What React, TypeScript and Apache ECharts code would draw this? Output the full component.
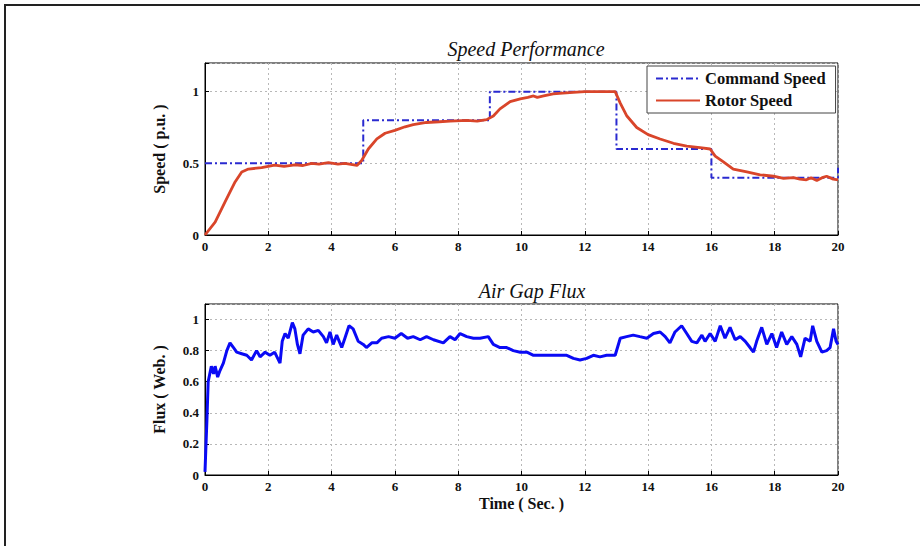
import React, { useEffect, useRef } from "react";
import * as echarts from "echarts";

// Command speed (step reference)
const cmdTime = [0, 5, 5, 9, 9, 13, 13, 16, 16, 20, 20];
const cmdSpeed = [0.5, 0.5, 0.8, 0.8, 1.0, 1.0, 0.6, 0.6, 0.4, 0.4, 0.47];

// Rotor speed
const rotorTime = [0, 0.32, 0.63, 0.95, 1.16, 1.37, 1.79, 2.2, 2.5, 2.84, 3.1, 3.37, 3.6, 3.9, 4.2, 4.42, 4.8, 4.95, 5.16, 5.43, 5.69, 6.0, 6.32, 6.58, 7.0, 7.4, 7.74, 8.27, 8.6, 8.9, 9.11, 9.32, 9.64, 9.96, 10.2, 10.38, 10.5, 10.7, 11.0, 11.3, 11.64, 12.0, 12.48, 12.96, 13.12, 13.33, 13.64, 14.0, 14.38, 14.8, 15.22, 15.64, 15.96, 16.12, 16.38, 16.69, 17.12, 17.54, 17.96, 18.28, 18.59, 18.8, 19.0, 19.15, 19.33, 19.5, 19.64, 19.85, 20.0];
const rotorSpeed = [0, 0.09, 0.23, 0.37, 0.44, 0.46, 0.47, 0.488, 0.478, 0.49, 0.485, 0.5, 0.495, 0.505, 0.495, 0.5, 0.485, 0.52, 0.6, 0.67, 0.71, 0.73, 0.755, 0.77, 0.785, 0.79, 0.795, 0.8, 0.795, 0.805, 0.83, 0.88, 0.93, 0.95, 0.96, 0.97, 0.96, 0.97, 0.985, 0.99, 0.995, 1.0, 1.0, 1.0, 0.92, 0.83, 0.75, 0.7, 0.67, 0.64, 0.62, 0.61, 0.6, 0.55, 0.51, 0.46, 0.44, 0.42, 0.41, 0.395, 0.4, 0.39, 0.385, 0.4, 0.38, 0.4, 0.41, 0.39, 0.385];

// Air gap flux
const fluxTime = [0, 0.03, 0.06, 0.1, 0.2, 0.27, 0.32, 0.4, 0.47, 0.58, 0.69, 0.79, 0.9, 1.0, 1.16, 1.32, 1.47, 1.63, 1.74, 1.9, 2.05, 2.2, 2.37, 2.44, 2.53, 2.63, 2.76, 2.84, 2.92, 3.0, 3.1, 3.26, 3.42, 3.58, 3.74, 3.84, 3.95, 4.05, 4.16, 4.32, 4.42, 4.55, 4.68, 4.84, 5.0, 5.1, 5.27, 5.43, 5.58, 5.8, 6.0, 6.2, 6.4, 6.58, 6.8, 7.0, 7.22, 7.53, 7.74, 7.9, 8.06, 8.27, 8.48, 8.69, 8.95, 9.11, 9.32, 9.53, 9.74, 9.96, 10.17, 10.38, 10.59, 10.8, 11.0, 11.22, 11.43, 11.64, 11.85, 12.06, 12.27, 12.48, 12.69, 12.96, 13.12, 13.32, 13.53, 13.74, 13.96, 14.17, 14.38, 14.54, 14.69, 14.85, 15.06, 15.22, 15.38, 15.54, 15.7, 15.8, 15.96, 16.12, 16.28, 16.43, 16.59, 16.75, 16.91, 17.07, 17.22, 17.33, 17.43, 17.59, 17.75, 17.91, 18.06, 18.22, 18.38, 18.54, 18.7, 18.82, 18.96, 19.12, 19.2, 19.33, 19.49, 19.64, 19.75, 19.86, 19.94, 20.0];
const fluxValue = [0.02, 0.19, 0.35, 0.6, 0.7, 0.65, 0.7, 0.63, 0.67, 0.72, 0.8, 0.85, 0.82, 0.79, 0.78, 0.77, 0.74, 0.8, 0.76, 0.79, 0.77, 0.79, 0.72, 0.86, 0.91, 0.88, 0.98, 0.94, 0.84, 0.78, 0.9, 0.94, 0.92, 0.93, 0.89, 0.85, 0.92, 0.84, 0.9, 0.82, 0.88, 0.96, 0.94, 0.86, 0.84, 0.82, 0.85, 0.85, 0.88, 0.89, 0.88, 0.91, 0.88, 0.89, 0.87, 0.89, 0.87, 0.85, 0.89, 0.87, 0.91, 0.89, 0.88, 0.88, 0.89, 0.84, 0.82, 0.82, 0.8, 0.79, 0.79, 0.77, 0.77, 0.77, 0.77, 0.77, 0.77, 0.75, 0.74, 0.75, 0.77, 0.76, 0.77, 0.77, 0.88, 0.89, 0.9, 0.89, 0.88, 0.91, 0.92, 0.89, 0.85, 0.92, 0.96, 0.91, 0.86, 0.85, 0.9, 0.86, 0.91, 0.86, 0.96, 0.88, 0.95, 0.87, 0.89, 0.86, 0.82, 0.79, 0.86, 0.95, 0.84, 0.91, 0.82, 0.92, 0.84, 0.89, 0.84, 0.76, 0.88, 0.86, 0.96, 0.86, 0.79, 0.8, 0.82, 0.94, 0.86, 0.84];

const xTicks = [0, 2, 4, 6, 8, 10, 12, 14, 16, 18, 20];

const FONT = "Liberation Serif";

function pairs(xs: number[], ys: number[]) {
  return xs.map((x, i) => [x, ys[i]]);
}

export default function App() {
  const ref = useRef<HTMLDivElement>(null);
  useEffect(() => {
    if (!ref.current) return;
    const chart = echarts.init(ref.current, null, { renderer: "svg" });
    const labelStyle = {
      fontFamily: FONT,
      fontWeight: "bold" as const,
      fontSize: 13,
      color: "#111",
    };
    const nameStyle = { ...labelStyle, fontSize: 16 };
    const splitLine = {
      show: true,
      lineStyle: { color: "#b8b8b8", type: [2, 3] as any, width: 1 },
    };
    const xAxisBase = (gridIndex: number, name: string) => ({
      type: "value" as const,
      gridIndex,
      min: 0,
      max: 20,
      interval: 2,
      name,
      nameLocation: "middle" as const,
      nameGap: 20,
      nameTextStyle: nameStyle,
      axisLine: { show: true, lineStyle: { color: "#000", width: 1 } },
      axisTick: { show: true, inside: true, length: 4, lineStyle: { color: "#000" } },
      axisLabel: { ...labelStyle, margin: 5, formatter: (v: number) => (xTicks.includes(v) ? String(v) : "") },
      splitLine,
    });
    const titleStyle = { fontFamily: FONT, fontStyle: "italic" as const, fontWeight: "normal" as const, fontSize: 20, color: "#111" };
    chart.setOption({
      animation: false,
      backgroundColor: "#fff",
      title: [
        { text: "Speed Performance", left: 521, top: 34, textAlign: "center", textStyle: titleStyle },
        { text: "Air Gap Flux", left: 527, top: 276, textAlign: "center", textStyle: titleStyle },
      ],
      legend: {
        data: ["Command Speed", "Rotor Speed"],
        orient: "vertical",
        left: 647,
        top: 66,
        itemWidth: 44,
        itemHeight: 12,
        itemGap: 5,
        padding: [4, 10, 4, 8],
        borderColor: "#444",
        borderWidth: 1,
        backgroundColor: "#fff",
        itemStyle: { opacity: 0, borderWidth: 0 },
        textStyle: { fontFamily: FONT, fontWeight: "bold", fontSize: 16.5, color: "#111" },
      },
      grid: [
        { left: 205, top: 63, width: 633, height: 172, show: true, borderColor: "#000", borderWidth: 1, backgroundColor: "transparent" },
        { left: 205, top: 304, width: 633, height: 171, show: true, borderColor: "#000", borderWidth: 1, backgroundColor: "transparent" },
      ],
      xAxis: [xAxisBase(0, ""), xAxisBase(1, "Time ( Sec. )")],
      yAxis: [
        {
          type: "value",
          gridIndex: 0,
          min: 0,
          max: 1.2,
          interval: 0.5,
          name: "Speed ( p.u. )",
          nameLocation: "middle",
          nameGap: 38,
          nameRotate: 90,
          nameTextStyle: nameStyle,
          axisLine: { show: true, lineStyle: { color: "#000" } },
          axisTick: { show: true, inside: true, length: 4, lineStyle: { color: "#000" } },
          axisLabel: { ...labelStyle, margin: 6, formatter: (v: number) => ([0, 0.5, 1].includes(v) ? String(v) : "") },
          splitLine,
        },
        {
          type: "value",
          gridIndex: 1,
          min: 0,
          max: 1.1,
          interval: 0.2,
          name: "Flux ( Web. )",
          nameLocation: "middle",
          nameGap: 38,
          nameRotate: 90,
          nameTextStyle: nameStyle,
          axisLine: { show: true, lineStyle: { color: "#000" } },
          axisTick: { show: true, inside: true, length: 4, lineStyle: { color: "#000" } },
          axisLabel: {
            ...labelStyle,
            margin: 6,
            formatter: (v: number) => {
              const r = Math.round(v * 10) / 10;
              return [0, 0.2, 0.4, 0.6, 0.8, 1].includes(r) && Math.abs(r - v) < 1e-6 ? String(r) : "";
            },
          },
          splitLine,
        },
      ],
      series: [
        {
          name: "Command Speed",
          type: "line",
          xAxisIndex: 0,
          yAxisIndex: 0,
          data: pairs(cmdTime, cmdSpeed),
          showSymbol: false,
          symbol: "none",
          itemStyle: { color: "#2a2ad0" },
          lineStyle: { color: "#2a2ad0", width: 2, type: [7, 3, 2, 3] },
          z: 3,
        },
        {
          name: "Rotor Speed",
          type: "line",
          xAxisIndex: 0,
          yAxisIndex: 0,
          data: pairs(rotorTime, rotorSpeed),
          showSymbol: false,
          symbol: "none",
          itemStyle: { color: "#d9452a" },
          lineStyle: { color: "#d9452a", width: 2.8 },
          z: 4,
        },
        {
          name: "Flux",
          type: "line",
          xAxisIndex: 1,
          yAxisIndex: 1,
          data: pairs(fluxTime, fluxValue),
          showSymbol: false,
          symbol: "none",
          itemStyle: { color: "#0a0af5" },
          lineStyle: { color: "#0a0af5", width: 3 },
          z: 3,
        },
      ],
      graphic: [
        {
          type: "rect",
          shape: { x: 5, y: 5, width: 1000, height: 1000 },
          style: { fill: "none", stroke: "#222", lineWidth: 2 },
          silent: true,
          z: 100,
        },
      ],
    });
    return () => chart.dispose();
  }, []);
  return (
    <div
      ref={ref}
      style={{ position: "fixed", left: 0, top: 0, width: 920, height: 546, background: "#fff" }}
    />
  );
}
